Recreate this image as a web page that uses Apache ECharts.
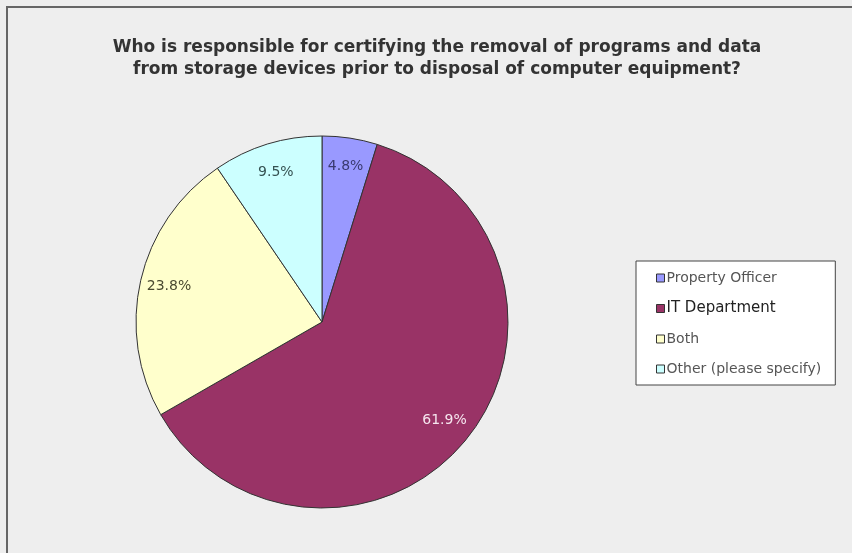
<!DOCTYPE html>
<html>
<head>
<meta charset="utf-8">
<script src="https://cdn.jsdelivr.net/npm/echarts@6/dist/echarts.min.js"></script>
<style>
  html, body { margin: 0; padding: 0; background: #eeeeee; }
  #chart { width: 852px; height: 553px; }
</style>
</head>
<body>
<div id="chart"></div>
<script>
// Survey answers and their shares (percent)
const categories = ['Property Officer', 'IT Department', 'Both', 'Other (please specify)'];
const shares = [4.8, 61.9, 23.8, 9.5];
const sliceColors = ['#9999ff', '#993366', '#ffffcc', '#ccffff'];
const labelColors = ['#3a3a70', '#f6e6ef', '#4a4a30', '#355252'];
const titleText = 'Who is responsible for certifying the removal of programs and data\nfrom storage devices prior to disposal of computer equipment?';

const center = [322, 322];
const radius = 186;

const chart = echarts.init(document.getElementById('chart'), null, { renderer: 'canvas' });

const sliceData = categories.map((name, i) => ({
  name,
  value: shares[i],
  itemStyle: { color: sliceColors[i] }
}));

// Transparent ring whose mid-radius carries the percentage labels near the rim
const labelData = categories.map((name, i) => ({
  name,
  value: shares[i],
  label: { color: labelColors[i] }
}));

chart.setOption({
  backgroundColor: '#eeeeee',
  animation: false,
  title: {
    text: titleText,
    left: 432,
    top: 32,
    textAlign: 'center',
    textStyle: {
      fontFamily: 'DejaVu Sans',
      fontWeight: 'bold',
      fontSize: 17,
      lineHeight: 22,
      color: '#333333'
    }
  },
  legend: {
    orient: 'vertical',
    left: 636,
    top: 261,
    backgroundColor: '#ffffff',
    borderColor: '#444444',
    borderWidth: 1,
    padding: [10, 14, 9, 20],
    itemWidth: 8,
    itemHeight: 8,
    itemGap: 16,
    icon: 'rect',
    itemStyle: { borderColor: '#333333', borderWidth: 1 },
    data: categories,
    formatter: name => name === 'IT Department' ? '{em|' + name + '}' : '{n|' + name + '}',
    textStyle: {
      padding: [0, 0, 0, -3],
      rich: {
        n: { fontFamily: 'DejaVu Sans', fontSize: 14, color: '#555555', height: 17 },
        em: { fontFamily: 'DejaVu Sans', fontSize: 15, color: '#222222', height: 17 }
      }
    }
  },
  graphic: [{
    type: 'rect',
    silent: true,
    shape: { x: 7, y: 7, width: 900, height: 600 },
    style: { fill: 'none', stroke: '#666666', lineWidth: 2 }
  }],
  series: [
    {
      type: 'pie',
      center: center,
      radius: radius,
      startAngle: 90,
      clockwise: true,
      silent: true,
      data: sliceData,
      label: { show: false },
      labelLine: { show: false },
      itemStyle: { borderColor: '#333333', borderWidth: 1 }
    },
    {
      type: 'pie',
      center: center,
      radius: [122, radius],
      startAngle: 90,
      clockwise: true,
      silent: true,
      data: labelData,
      itemStyle: { color: 'rgba(0,0,0,0)', borderWidth: 0 },
      label: {
        show: true,
        position: 'inside',
        formatter: p => p.value.toFixed(1) + '%',
        fontFamily: 'DejaVu Sans',
        fontSize: 14
      },
      labelLine: { show: false }
    }
  ]
});
</script>
</body>
</html>
